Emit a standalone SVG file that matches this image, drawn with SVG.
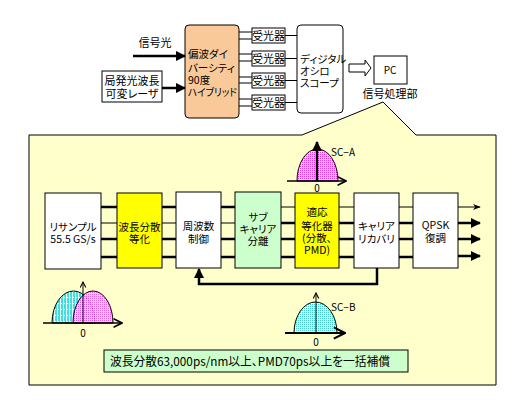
<svg xmlns="http://www.w3.org/2000/svg" width="513" height="407" viewBox="0 0 513 407">
<style>
text{font-family:"Noto Sans CJK JP","Liberation Sans",sans-serif;font-size:11px;fill:#000;font-feature-settings:"palt";}
.c{text-anchor:middle;}
.b{font-size:10.5px;}
.box{stroke:#000;stroke-width:1;}
.w{fill:#fff;}
.y{fill:#ffff00;}
.g{fill:#ccffcc;}
.ln{stroke:#000;fill:none;}
.tk{stroke-width:2.5;}
.tn{stroke-width:1;}
.sm{font-size:10px;}
</style>
<defs>
<marker id="ah" viewBox="0 0 10 10" refX="9" refY="5" markerWidth="4" markerHeight="4" orient="auto" markerUnits="strokeWidth">
<path d="M0,0 L10,5 L0,10 z" fill="#000"/>
</marker>
<marker id="ahThin" viewBox="0 0 10 10" refX="9" refY="5" markerWidth="8" markerHeight="8" orient="auto" markerUnits="strokeWidth">
<path d="M0,1 L10,5 L0,9 L3,5 z" fill="#000"/>
</marker>
<marker id="open" viewBox="0 0 10 10" refX="9" refY="5" markerWidth="7" markerHeight="7" orient="auto" markerUnits="strokeWidth">
<path d="M1,1 L9,5 L1,9" fill="none" stroke="#000" stroke-width="1.5"/>
</marker>
<pattern id="pink" width="2" height="2" patternUnits="userSpaceOnUse">
<rect width="2" height="2" fill="#ffd0ff"/><rect width="1" height="1" fill="#ee33ee"/>
</pattern>
<pattern id="cyan" width="2" height="2" patternUnits="userSpaceOnUse">
<rect width="2" height="2" fill="#d8ffff"/><rect width="1" height="1" fill="#44cccc"/>
</pattern>
<pattern id="cyanStripe" width="3" height="6" patternUnits="userSpaceOnUse">
<rect width="3" height="6" fill="#44dddd"/><rect x="0" width="1" height="6" fill="#e8ffff"/><rect x="1" y="3" width="1" height="1" fill="#fff"/>
</pattern>
</defs>

<rect width="513" height="407" fill="#fff"/>

<!-- panel callout -->
<g id="panel">
<path d="M29,135 L302,135 L383,102 L416,135 L496,135 L496,385 L29,385 Z" fill="#ffffcc" stroke="#000" stroke-width="1"/>
</g>

<!-- top section nodes -->
<g id="signal-light"><text class="c" x="155" y="47">信号光</text></g>
<g id="local-laser">
<rect class="box w" x="102" y="71" width="60" height="31"/>
<text class="c" x="132" y="85">局発光波長</text>
<text class="c" x="132" y="98">可変レーザ</text>
</g>
<g id="hybrid">
<rect class="box" x="185" y="25" width="54" height="93" rx="4" fill="#fac99a"/>
<text class="b" x="188" y="58">偏波ダイ</text>
<text class="b" x="188" y="72">バーシティ</text>
<text class="b" x="188" y="84">90度</text>
<text class="b" x="188" y="96" textLength="49" lengthAdjust="spacingAndGlyphs">ハイブリッド</text>
</g>
<g id="pd1"><rect class="box w" x="252" y="28" width="33" height="15"/><text class="c" x="268.5" y="39.5">受光器</text></g>
<g id="pd2"><rect class="box w" x="252" y="51" width="33" height="15"/><text class="c" x="268.5" y="62.5">受光器</text></g>
<g id="pd3"><rect class="box w" x="252" y="73" width="33" height="15"/><text class="c" x="268.5" y="84.5">受光器</text></g>
<g id="pd4"><rect class="box w" x="252" y="95" width="33" height="15"/><text class="c" x="268.5" y="106.5">受光器</text></g>
<g id="scope">
<rect class="box w" x="297" y="25" width="46" height="88" rx="4"/>
<text class="b" x="300" y="63">ディジタル</text>
<text class="b" x="300" y="75">オシロ</text>
<text class="b" x="300" y="87">スコープ</text>
</g>
<g id="pc">
<rect class="box w" x="374" y="56" width="33" height="28"/>
<text class="c sm" x="390" y="74">PC</text>
<text class="c" x="390" y="98">信号処理部</text>
</g>

<!-- panel nodes -->
<g id="resample">
<rect class="box w" x="45" y="193" width="56" height="76"/>
<text class="c b" x="73" y="231">リサンプル</text>
<text class="c b" x="73" y="243">55.5 GS/s</text>
</g>
<g id="cd-eq">
<rect class="box y" x="117" y="193" width="45" height="75"/>
<text class="c b" x="139.5" y="231">波長分散</text>
<text class="c b" x="139.5" y="243">等化</text>
</g>
<g id="freq-ctrl">
<rect class="box w" x="176" y="192" width="45" height="76"/>
<text class="c b" x="198.5" y="230">周波数</text>
<text class="c b" x="198.5" y="243">制御</text>
</g>
<g id="subcarrier">
<rect class="box g" x="235" y="192" width="46" height="76"/>
<text class="c b" x="258" y="221">サブ</text>
<text class="c b" x="258" y="233">キャリア</text>
<text class="c b" x="258" y="245">分離</text>
</g>
<g id="adaptive-eq">
<rect class="box y" x="295" y="193" width="44" height="75"/>
<text class="c b" x="317" y="216">適応</text>
<text class="c b" x="317" y="230">等化器</text>
<text class="c b" x="317" y="242">(分散、</text>
<text class="c b" x="317" y="254">PMD)</text>
</g>
<g id="carrier-recovery">
<rect class="box w" x="354" y="193" width="45" height="75"/>
<text class="c b" x="376.5" y="230">キャリア</text>
<text class="c b" x="376.5" y="243">リカバリ</text>
</g>
<g id="qpsk">
<rect class="box w" x="413" y="193" width="45" height="75"/>
<text class="c b" x="435.5" y="229">QPSK</text>
<text class="c b" x="435.5" y="242">復調</text>
</g>

<!-- spectra -->
<g id="spectrum-sca">
<path d="M297,181 A20.5,32 0 0 1 338,181 Z" fill="url(#pink)" stroke="#000" stroke-width="1"/>
<line class="ln" x1="287" y1="181" x2="346" y2="181" stroke-width="1.5" marker-end="url(#open)"/>
<line class="ln" x1="317" y1="181" x2="317" y2="142" stroke-width="2.5" marker-end="url(#ah)"/>
<text class="sm" x="331" y="156">SC−A</text>
<text class="c sm" x="317" y="192">0</text>
</g>
<g id="spectrum-scb">
<path d="M294,333 A21.5,31 0 0 1 337,333 Z" fill="url(#cyan)" stroke="#000" stroke-width="1"/>
<line class="ln" x1="285" y1="333" x2="345" y2="333" stroke-width="2" marker-end="url(#open)"/>
<line class="ln" x1="316" y1="333" x2="316" y2="293" stroke-width="1" marker-end="url(#open)"/>
<text class="sm" x="331" y="311">SC−B</text>
<text class="c sm" x="316" y="346">0</text>
</g>
<g id="spectrum-mixed">
<path d="M52,323 A21.5,32 0 0 1 95,323 Z" fill="url(#cyanStripe)" stroke="#000" stroke-width="1"/>
<path d="M73,323 A20,32 0 0 1 113,323 Z" fill="url(#pink)" fill-opacity="0.8" stroke="#000" stroke-width="1"/>
<line class="ln" x1="43" y1="323" x2="122" y2="323" stroke-width="1.5" marker-end="url(#open)"/>
<line class="ln" x1="83" y1="323" x2="83" y2="282" stroke-width="1" marker-end="url(#open)"/>
<text class="c sm" x="83" y="337">0</text>
</g>

<g id="summary">
<rect class="box g" x="104" y="350" width="304" height="22"/>
<text x="110" y="365.5" style="font-size:12px" textLength="280" lengthAdjust="spacingAndGlyphs">波長分散63,000ps/nm以上、PMD70ps以上を一括補償</text>
</g>

<!-- connectors -->
<g id="connectors">
<line class="ln tk" x1="133" y1="56" x2="185" y2="56" marker-end="url(#ah)"/>
<line class="ln tk" x1="162" y1="88" x2="185" y2="88" marker-end="url(#ah)"/>
<path class="ln tn" d="M239,32H252M239,39H252M239,54H252M239,61H252M239,77H252M239,83H252M239,99H252M239,106H252"/>
<path class="ln tn" d="M285,35.5H297M285,58.5H297M285,80.5H297M285,102.5H297"/>
<path d="M349,64 H365 V60 L371,68 L365,76 V72 H349 Z" fill="#fff" stroke="#000" stroke-width="1"/>
<path class="ln tk" d="M101,207H117M101,239H117M101,257H117M162,207H176M162,239H176M162,257H176M221,207H235M221,239H235M221,257H235"/>
<path class="ln tn" d="M101,223H117M162,223H176M221,223H235"/>
<path class="ln tk" d="M281,223H295M281,239H295M281,257H295M339,223H354M339,239H354M339,257H354M399,223H413M399,239H413M399,257H413"/>
<path class="ln tn" d="M281,207H295M339,207H354M399,207H413"/>
<line class="ln tn" x1="458" y1="207" x2="480" y2="207" marker-end="url(#ahThin)"/>
<line class="ln tk" x1="458" y1="223" x2="480" y2="223" marker-end="url(#ah)"/>
<line class="ln tk" x1="458" y1="239" x2="480" y2="239" marker-end="url(#ah)"/>
<line class="ln tk" x1="458" y1="256" x2="480" y2="256" marker-end="url(#ah)"/>
<path class="ln tk" d="M377,268 V284 H199 V269" marker-end="url(#ah)"/>
</g>
</svg>
